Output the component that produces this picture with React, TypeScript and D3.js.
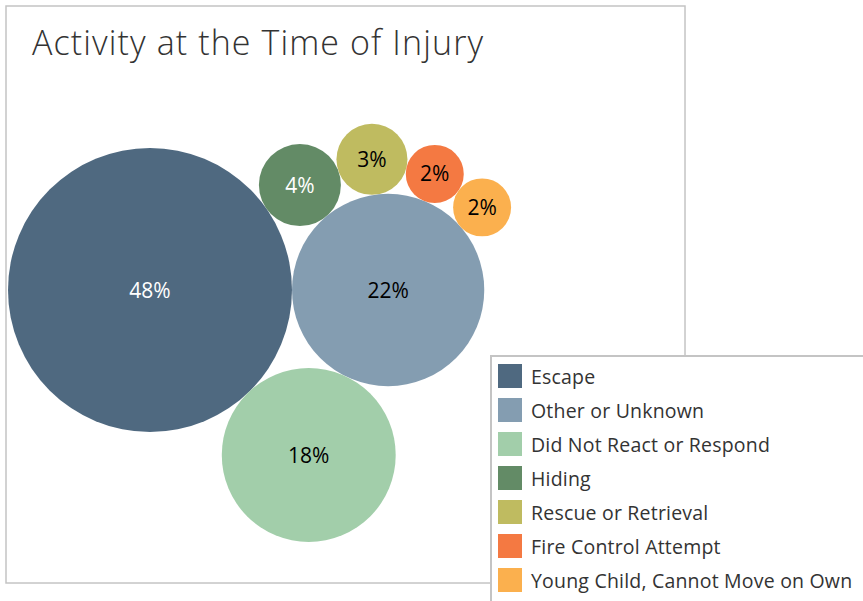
import React from 'react';
import * as d3 from 'd3';

const categories = [
  'Escape',
  'Other or Unknown',
  'Did Not React or Respond',
  'Hiding',
  'Rescue or Retrieval',
  'Fire Control Attempt',
  'Young Child, Cannot Move on Own',
];
const shares = [48, 22, 18, 4, 3, 2, 2];
const colors = ['#4f6980', '#849db1', '#a2ceaa', '#638b66', '#bfbb60', '#f47942', '#fbb04e'];
const labelColors = ['#ffffff', '#000000', '#000000', '#ffffff', '#000000', '#000000', '#000000'];

const W = 863;
const H = 601;
const FONT = '"Open Sans", "Noto Sans", sans-serif';

interface Bubble {
  name: string;
  value: number;
  color: string;
  label: string;
  r: number;
  x: number;
  y: number;
}

// put circle c tangent to a and b, on one side of the line a->b
function place(a: Bubble, b: Bubble, c: Bubble, side: number) {
  const da = a.r + c.r;
  const db = b.r + c.r;
  const d = Math.hypot(b.x - a.x, b.y - a.y);
  const ux = (b.x - a.x) / d;
  const uy = (b.y - a.y) / d;
  const along = (d * d + da * da - db * db) / (2 * d);
  const h = Math.sqrt(Math.max(0, da * da - along * along));
  const px = a.x + along * ux;
  const py = a.y + along * uy;
  c.x = px - side * h * uy;
  c.y = py + side * h * ux;
}

const App: React.FC = () => {
  // radius from area
  const rScale = d3.scaleSqrt().domain([0, 48]).range([0, 142]);

  const bubbles: Bubble[] = categories.map((name, i) => ({
    name,
    value: shares[i],
    color: colors[i],
    label: labelColors[i],
    r: rScale(shares[i]),
    x: 0,
    y: 0,
  }));

  // front-chain packing like Tableau: big pair side by side,
  // third below both, then the small ones wrap round the top of the second
  const [A, B, ...rest] = bubbles;
  B.x = A.r + B.r;
  place(A, B, rest[0], 1);
  place(A, B, rest[1], -1);
  for (let i = 2; i < rest.length; i++) place(rest[i - 1], B, rest[i], -1);

  // biggest bubble touches the left edge of the frame
  const minX = d3.min(bubbles, d => d.x - d.r) as number;
  const dx = 8 - minX;
  const dy = 290 - A.y;

  const legendY = d3.scaleBand<string>().domain(categories).range([363, 363 + 34 * categories.length]);

  return (
    <div style={{ position: 'absolute', left: 0, top: 0, width: W, height: H, background: '#fff' }}>
      <svg width={W} height={H} style={{ display: 'block' }}>
        <rect x={6} y={6} width={679} height={577} fill="none" stroke="#c4c4c4" strokeWidth={1.5} />
        <text x={32} y={55} fontFamily={FONT} fontWeight={300} fontSize={34} letterSpacing={1.1} fill="#333">
          Activity at the Time of Injury
        </text>
        <g transform={`translate(${dx},${dy})`}>
          {bubbles.map(b => (
            <g key={b.name}>
              <circle cx={b.x} cy={b.y} r={b.r} fill={b.color} />
              <text
                x={b.x}
                y={b.y}
                dy="0.36em"
                textAnchor="middle"
                fontFamily={FONT}
                fontSize={21}
                fill={b.label}
              >
                {b.value}%
              </text>
            </g>
          ))}
        </g>
        <g>
          <rect x={491} y={356} width={380} height={250} fill="#fff" stroke="#c4c4c4" strokeWidth={2} />
          {categories.map((c, i) => (
            <g key={c} transform={`translate(0,${legendY(c)})`}>
              <rect x={498} y={1} width={24} height={24} fill={colors[i]} />
              <text x={531} y={14} dy="0.36em" fontFamily={FONT} fontSize={19.5} letterSpacing={0.2} fill="#333">
                {c}
              </text>
            </g>
          ))}
        </g>
      </svg>
    </div>
  );
};

export default App;
